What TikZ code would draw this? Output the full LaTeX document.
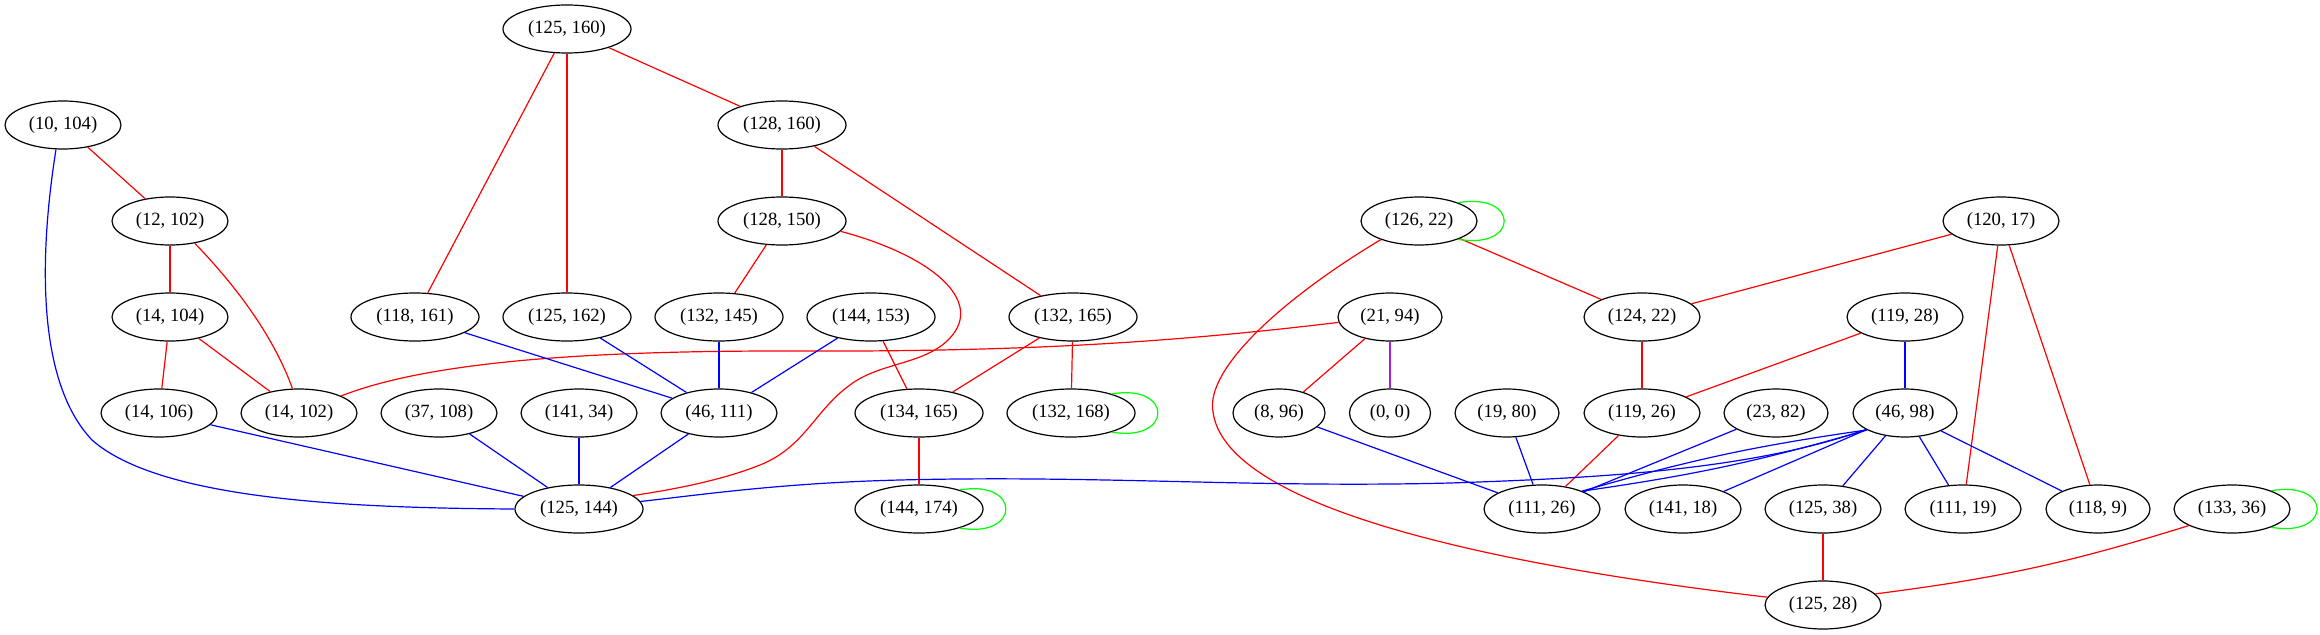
\documentclass[tikz,border=0pt]{standalone}
\usepackage{fontspec}
\setmainfont{Liberation Serif}
\usetikzlibrary{shapes.geometric}
\definecolor{gvred}{HTML}{FF0000}
\definecolor{gvblue}{HTML}{0000FF}
\definecolor{gvgreen}{HTML}{00FF00}
\definecolor{gvpurple}{HTML}{A020F0}
\begin{document}
\begin{tikzpicture}[x=0.75pt,y=-0.75pt,
  vtx/.style={draw, ellipse, line width=0.9pt, inner sep=0pt, minimum height=36pt, font=\fontsize{14}{16}\selectfont},
  wa/.style={vtx, minimum width=60.75pt},
  wb/.style={vtx, minimum width=69pt},
  wc/.style={vtx, minimum width=78pt},
  wd/.style={vtx, minimum width=87pt},
  we/.style={vtx, minimum width=96pt},
  er/.style={draw=gvred, line width=0.9pt},
  eb/.style={draw=gvblue, line width=0.9pt},
  eg/.style={draw=gvgreen, line width=0.9pt},
  ep/.style={draw=gvpurple, line width=0.9pt},
  loopr/.style={eg}
]
\useasboundingbox (0,0) rectangle (2320,635);
% rank 0
\node[we] (n125n160) at (567,29) {(125, 160)};
% rank 1
\node[wd] (n10n104) at (63,125) {(10, 104)};
\node[we] (n128n160) at (782,125) {(128, 160)};
% rank 2
\node[wd] (n12n102) at (170,221) {(12, 102)};
\node[we] (n128n150) at (782,221) {(128, 150)};
\node[wd] (n126n22) at (1419,221) {(126, 22)};
\node[wd] (n120n17) at (2001,221) {(120, 17)};
% rank 3
\node[wd] (n14n104) at (170,317) {(14, 104)};
\node[we] (n118n161) at (415,317) {(118, 161)};
\node[we] (n125n162) at (567,317) {(125, 162)};
\node[we] (n132n145) at (719,317) {(132, 145)};
\node[we] (n144n153) at (871,317) {(144, 153)};
\node[we] (n132n165) at (1073,317) {(132, 165)};
\node[wc] (n21n94) at (1390,317) {(21, 94)};
\node[wd] (n124n22) at (1642,317) {(124, 22)};
\node[wd] (n119n28) at (1905,317) {(119, 28)};
% rank 4
\node[wd] (n14n106) at (159,413) {(14, 106)};
\node[wd] (n14n102) at (299,413) {(14, 102)};
\node[wd] (n37n108) at (439,413) {(37, 108)};
\node[wd] (n141n34) at (579,413) {(141, 34)};
\node[wd] (n46n111) at (719,413) {(46, 111)};
\node[we] (n134n165) at (919,413) {(134, 165)};
\node[we] (n132n168) at (1071,413) {(132, 168)};
\node[wb] (n8n96) at (1279,413) {(8, 96)};
\node[wa] (n0n0) at (1390,413) {(0, 0)};
\node[wc] (n19n80) at (1507,413) {(19, 80)};
\node[wd] (n119n26) at (1642,413) {(119, 26)};
\node[wc] (n23n82) at (1776,413) {(23, 82)};
\node[wc] (n46n98) at (1905,413) {(46, 98)};
% rank 5
\node[we] (n125n144) at (579,509) {(125, 144)};
\node[we] (n144n174) at (919,509) {(144, 174)};
\node[wd] (n111n26) at (1542,509) {(111, 26)};
\node[wd] (n141n18) at (1683,509) {(141, 18)};
\node[wd] (n125n38) at (1823,509) {(125, 38)};
\node[wd] (n111n19) at (1963,509) {(111, 19)};
\node[wc] (n118n9) at (2098,509) {(118, 9)};
\node[wd] (n133n36) at (2232,509) {(133, 36)};
% rank 6
\node[wd] (n125n28) at (1823,605) {(125, 28)};

% red edges
\draw[er] (n125n160) -- (n128n160);
\draw[er] (n125n160) -- (n118n161);
\draw[er] (n125n160) -- (n125n162);
\draw[er] (n10n104) -- (n12n102);
\draw[er] (n128n160) -- (n128n150);
\draw[er] (n128n160) -- (n132n165);
\draw[er] (n12n102) -- (n14n104);
\draw[er] (n12n102.-42) .. controls (240,290) and (275,340) .. (n14n102.105);
\draw[er] (n14n104) -- (n14n106);
\draw[er] (n14n104) -- (n14n102);
\draw[er] (n128n150) -- (n132n145);
\draw[er] (n128n150.-10) .. controls (930,255) and (985,300) .. (950,338)
   .. controls (925,365) and (880,362) .. (850,385)
   .. controls (815,410) and (805,447) .. (760,465)
   .. controls (720,481) and (670,490) .. (n125n144.14);
\draw[er] (n144n153) -- (n134n165);
\draw[er] (n132n165) -- (n134n165);
\draw[er] (n132n165) -- (n132n168);
\draw[er] (n134n165) -- (n144n174);
\draw[er] (n21n94.186) .. controls (1150,345) and (1000,352) .. (780,351)
   .. controls (560,351) and (420,365) .. (n14n102.22);
\draw[er] (n21n94) -- (n8n96);
\draw[er] (n126n22) -- (n124n22);
\draw[er] (n126n22.206) .. controls (1280,300) and (1205,370) .. (1213,412)
   .. controls (1225,500) and (1450,560) .. (n125n28.172);
\draw[er] (n120n17) -- (n124n22);
\draw[er] (n120n17) -- (n111n19);
\draw[er] (n120n17) -- (n118n9);
\draw[er] (n124n22) -- (n119n26);
\draw[er] (n119n28) -- (n119n26);
\draw[er] (n119n26) -- (n111n26);
\draw[er] (n125n38) -- (n125n28);
\draw[er] (n133n36.201) to[bend left=5] (n125n28.12);

% blue edges
\draw[eb] (n10n104.-106) .. controls (40,250) and (35,380) .. (92,440)
   .. controls (160,500) and (350,508) .. (n125n144.180);
\draw[eb] (n118n161) -- (n46n111);
\draw[eb] (n125n162) -- (n46n111);
\draw[eb] (n132n145) -- (n46n111);
\draw[eb] (n144n153) -- (n46n111);
\draw[eb] (n14n106) -- (n125n144);
\draw[eb] (n37n108) -- (n125n144);
\draw[eb] (n141n34) -- (n125n144);
\draw[eb] (n46n111) -- (n125n144);
\draw[eb] (n8n96) -- (n111n26);
\draw[eb] (n19n80) -- (n111n26);
\draw[eb] (n23n82) -- (n111n26);
\draw[eb] (n119n28) -- (n46n98);
\draw[eb] (n46n98.203) .. controls (1750,470) and (1600,478) .. (1450,483)
   .. controls (1250,488) and (1100,475) .. (900,480)
   .. controls (780,483) and (700,495) .. (n125n144.7);
\draw[eb] (n46n98.204) to[bend left=4] (n111n26.24);
\draw[eb] (n46n98.204) to[bend right=4] (n111n26.24);
\draw[eb] (n46n98) -- (n141n18);
\draw[eb] (n46n98) -- (n125n38);
\draw[eb] (n46n98) -- (n111n19);
\draw[eb] (n46n98) -- (n118n9);

% purple edge
\draw[ep] (n21n94) -- (n0n0);

% self loops
\draw[loopr] (n126n22.25) .. controls +(46pt,8pt) and +(46pt,-8pt) .. (n126n22.-25);
\draw[loopr] (n132n168.25) .. controls +(46pt,8pt) and +(46pt,-8pt) .. (n132n168.-25);
\draw[loopr] (n144n174.25) .. controls +(46pt,8pt) and +(46pt,-8pt) .. (n144n174.-25);
\draw[loopr] (n133n36.25) .. controls +(46pt,8pt) and +(46pt,-8pt) .. (n133n36.-25);
\end{tikzpicture}
\end{document}
